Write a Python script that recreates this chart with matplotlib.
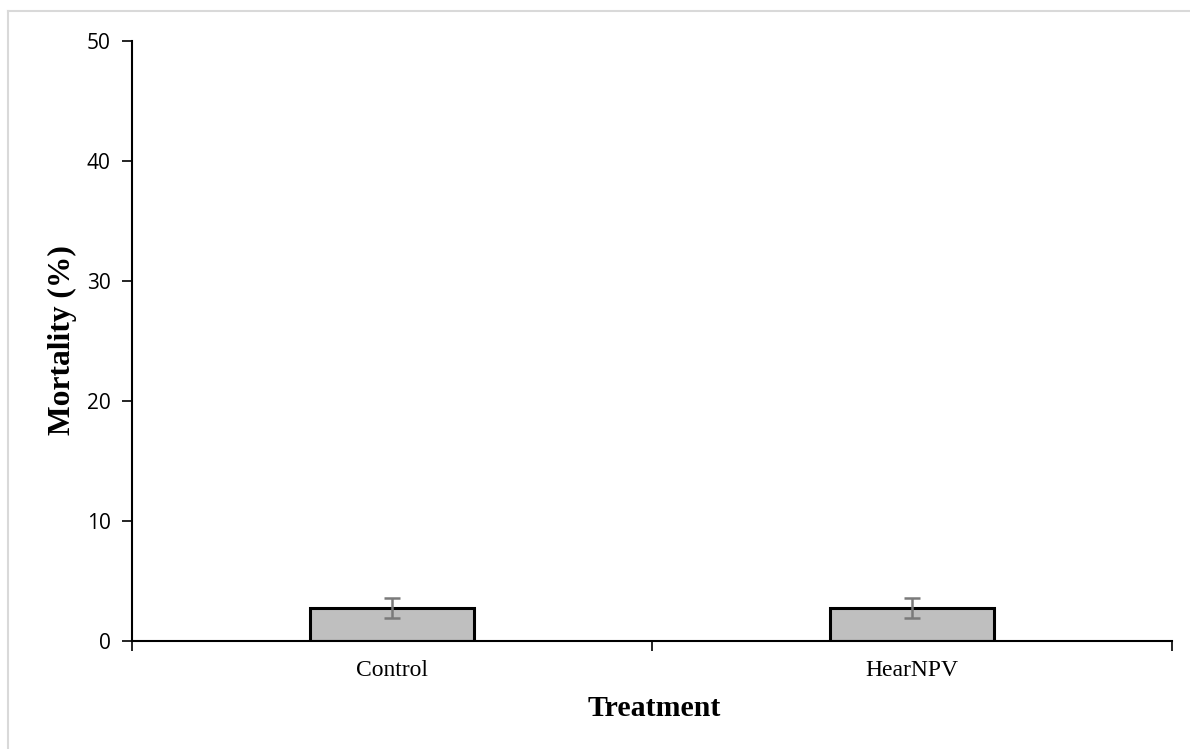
import matplotlib
matplotlib.use("Agg")
import matplotlib.pyplot as plt
from matplotlib.lines import Line2D

categories = ["Control", "HearNPV"]
mortality = [2.78, 2.78]
errors = [0.83, 0.83]
yticks = [0, 10, 20, 30, 40, 50]

W, H = 1190, 749
fig = plt.figure(figsize=(W / 100, H / 100), dpi=100)
# light outer chart-area border (top and left visible)
fig.lines.append(Line2D([8 / W, 8 / W], [0, 1 - 11 / H], transform=fig.transFigure,
                        color="#d9d9d9", linewidth=1.5))
fig.lines.append(Line2D([8 / W, 1], [1 - 11 / H, 1 - 11 / H], transform=fig.transFigure,
                        color="#d9d9d9", linewidth=1.5))

ax = fig.add_axes([132 / W, 1 - 641 / H, (1172 - 132) / W, 600 / H])

x = list(range(len(categories)))
ax.bar(x, mortality, width=0.315, color="#bfbfbf", edgecolor="black", linewidth=2.2, zorder=2)
ax.errorbar(x, mortality, yerr=errors, fmt="none", ecolor="#7a7a7a", elinewidth=1.8,
            capsize=6, capthick=1.8, zorder=3)

ax.set_xlim(-0.5, len(categories) - 0.5)
ax.set_ylim(0, 50)
ax.set_yticks(yticks)
ax.set_yticklabels([str(t) for t in yticks], fontfamily="Open Sans", fontsize=15)
ax.set_xticks(x)
ax.set_xticklabels(categories, fontfamily="Liberation Serif", fontsize=17)
ax.tick_params(axis="x", length=0, pad=14)
ax.set_xticks([-0.5, 0.5, 1.5], minor=True)
ax.tick_params(axis="x", which="minor", length=7, width=1.2, direction="out")
ax.tick_params(axis="y", length=7, width=1.2, direction="out", pad=8.5)

for s in ["top", "right"]:
    ax.spines[s].set_visible(False)
for s in ["left", "bottom"]:
    ax.spines[s].set_linewidth(1.5)

fig.text(62 / W, 1 - 340 / H, "Mortality (%)", rotation=90, ha="center", va="center",
         fontfamily="Liberation Serif", fontweight="bold", fontsize=22.7)
fig.text(654 / W, 1 - 708 / H, "Treatment", ha="center", va="center",
         fontfamily="Liberation Serif", fontweight="bold", fontsize=21.5)

fig.savefig("out.png", dpi=100)
